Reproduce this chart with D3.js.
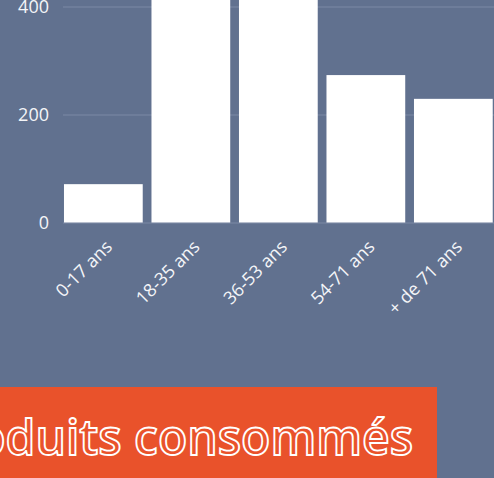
<!DOCTYPE html>
<html>
<head>
<meta charset="utf-8">
<script src="https://cdn.jsdelivr.net/npm/d3@7"></script>
<style>
  html, body { margin: 0; padding: 0; background: #61718f; overflow: hidden; }
  svg { display: block; }
</style>
</head>
<body>
<div id="chart"></div>
<script>
// age groups / product counts
const AGE_GROUPS = ["0-17 ans", "18-35 ans", "36-53 ans", "54-71 ans", "+ de 71 ans"];
const COUNTS = [71, 520, 500, 273, 229];
const Y_TICKS = [0, 200, 400];
const BANNER_TITLE = "Produits consommés";

const data = AGE_GROUPS.map((age, i) => ({ age, value: COUNTS[i] }));

const totalW = 494, totalH = 478;
const FONT = "'Open Sans', 'Noto Sans', sans-serif";

const svg = d3.select("#chart").append("svg")
  .attr("width", totalW).attr("height", totalH);

/* ── Scales ── */
const x = d3.scaleBand()
  .domain(AGE_GROUPS)
  .range([59.6, 497.1])
  .paddingInner(0.1)
  .paddingOuter(0.05);

const y = d3.scaleLinear()
  .domain([0, 400])
  .range([222.5, 6.5]);

/* ── Grid + y axis ── */
svg.append("g").attr("transform", "translate(63,0)")
  .call(d3.axisLeft(y).tickValues(Y_TICKS).tickSize(-(totalW - 63)).tickPadding(14))
  .call(ax => ax.select(".domain").remove())
  .call(ax => ax.selectAll("line").attr("stroke", "#7c8aa5").attr("stroke-width", 1.2))
  .call(ax => ax.selectAll("text")
    .attr("font-family", FONT).attr("font-size", 18).attr("font-weight", 500)
    .attr("fill", "#f4f5f8"));

/* ── Bars ── */
svg.append("g").selectAll("rect")
  .data(data)
  .join("rect")
  .attr("x", d => x(d.age))
  .attr("y", d => y(d.value))
  .attr("width", x.bandwidth())
  .attr("height", d => y(0) - y(d.value))
  .attr("fill", "#ffffff");

/* ── X labels ── */
svg.append("g").selectAll("text")
  .data(data)
  .join("text")
  .attr("transform", d => `translate(${x(d.age) + x.bandwidth() / 2 + 10},248) rotate(-45)`)
  .attr("text-anchor", "end")
  .attr("font-family", FONT).attr("font-size", 18).attr("font-weight", 500)
  .attr("fill", "#f4f5f8")
  .text(d => d.age);

/* ── Banner ── */
svg.append("rect")
  .attr("x", 0).attr("y", 387)
  .attr("width", 437).attr("height", totalH - 387)
  .attr("fill", "#e9522b");

svg.append("text")
  .attr("x", 413).attr("y", 455)
  .attr("text-anchor", "end")
  .attr("font-family", FONT).attr("font-size", 48).attr("font-weight", 600)
  .attr("fill", "#e9522b").attr("stroke", "#ffffff").attr("stroke-width", 1.8)
  .text(BANNER_TITLE);
</script>
</body>
</html>
